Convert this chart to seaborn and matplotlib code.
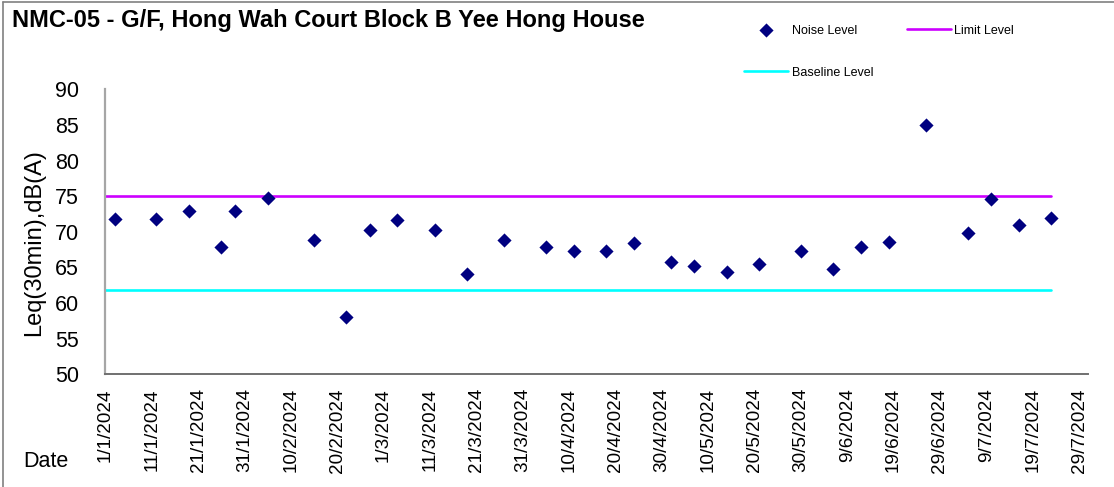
import matplotlib
matplotlib.use("Agg")
import matplotlib.pyplot as plt
from matplotlib.lines import Line2D
import seaborn as sns
import pandas as pd

# ---- data ----
noise_dates = ["2024-01-03", "2024-01-12", "2024-01-19", "2024-01-26", "2024-01-29",
               "2024-02-05", "2024-02-15", "2024-02-22", "2024-02-27", "2024-03-04",
               "2024-03-12", "2024-03-19", "2024-03-27", "2024-04-05", "2024-04-11",
               "2024-04-18", "2024-04-24", "2024-05-02", "2024-05-07", "2024-05-14",
               "2024-05-21", "2024-05-30", "2024-06-06", "2024-06-12", "2024-06-18",
               "2024-06-26", "2024-07-05", "2024-07-10", "2024-07-16", "2024-07-23"]
noise_values = [71.8, 71.8, 72.9, 67.8, 72.9, 74.7, 68.8, 58.1, 70.3, 71.6,
                70.3, 64.1, 68.8, 67.9, 67.3, 67.3, 68.4, 65.8, 65.2, 64.3,
                65.5, 67.3, 64.8, 67.8, 68.6, 85.0, 69.8, 74.6, 71.0, 72.0]
level_dates = ["2024-01-01", "2024-07-23"]
limit_values = [75, 75]
baseline_values = [61.8, 61.8]
title = "NMC-05 - G/F, Hong Wah Court Block B Yee Hong House"
y_ticks = [50, 55, 60, 65, 70, 75, 80, 85, 90]
x_start, x_end, x_last_tick = "2024-01-01", "2024-07-31", "2024-07-29"

noise_dt = pd.to_datetime(noise_dates)
level_dt = pd.to_datetime(level_dates)

sns.set_style("white")
plt.rcParams["font.family"] = ["Liberation Sans", "DejaVu Sans"]
plt.rcParams["text.color"] = "black"
plt.rcParams["xtick.color"] = "black"
plt.rcParams["ytick.color"] = "black"
plt.rcParams["axes.labelcolor"] = "black"

W, H = 1114, 487
fig = plt.figure(figsize=(W / 100, H / 100), dpi=100)
ax = fig.add_axes([105.3 / W, 1 - 374.3 / H, (1088.3 - 105.3) / W, (374.3 - 89.3) / H])

sns.lineplot(x=level_dt, y=limit_values, color="#CC00FF", linewidth=1.9,
             label="Limit Level", ax=ax, zorder=2)
sns.lineplot(x=level_dt, y=baseline_values, color="#00FFFF", linewidth=1.9,
             label="Baseline Level", ax=ax, zorder=2)
sns.scatterplot(x=noise_dt, y=noise_values, marker="D", color="#000080", s=52,
                linewidth=0, label="Noise Level", ax=ax, zorder=3)

ax.set_xlim(pd.Timestamp(x_start), pd.Timestamp(x_end))
ax.set_ylim(50, 90)
ax.set_yticks(y_ticks)
ax.set_yticklabels([str(v) for v in y_ticks], fontsize=15.5)
xt = pd.date_range(x_start, x_last_tick, freq="10D")
ax.set_xticks(xt)
ax.set_xticklabels([f"{d.day}/{d.month}/{d.year}" for d in xt], rotation=90,
                   fontsize=13.6, va="top")
ax.tick_params(axis="x", direction="in", length=5, width=1.2, color="#404040",
               labelcolor="black", pad=10)
ax.tick_params(axis="y", length=0, pad=19, labelcolor="black")
ax.set_xlabel("")
ax.set_ylabel("")
for s in ["top", "right"]:
    ax.spines[s].set_visible(False)
ax.spines["left"].set_color("#A6A6A6")
ax.spines["left"].set_linewidth(1.6)
ax.spines["bottom"].set_color("#707070")
ax.spines["bottom"].set_linewidth(1.4)
ax.grid(False)

h, l = ax.get_legend_handles_labels()
ax.get_legend().remove()
order = [l.index("Noise Level"), l.index("Baseline Level"), l.index("Limit Level")]
fig.legend([h[i] for i in order], [l[i] for i in order], ncol=2, loc="upper left",
           bbox_to_anchor=(744 / W, 1 - 24.5 / H), frameon=False, fontsize=9,
           handlelength=3.5, handletextpad=0.3, columnspacing=2.7,
           labelspacing=2.42, borderpad=0, borderaxespad=0, scatterpoints=1)

fig.text(12 / W, 1 - 8.5 / H, title, fontsize=17, fontweight="bold", va="top",
         ha="left", color="black")
fig.text(34 / W, 1 - 243 / H, "Leq(30min),dB(A)", rotation=90, fontsize=17,
         ha="center", va="center", color="black")
fig.text(23 / W, 1 - 467 / H, "Date", fontsize=15.5, ha="left", va="baseline",
         color="black")

fig.add_artist(Line2D([3 / W, 3 / W], [0, 1 - 1.5 / H], transform=fig.transFigure,
                      color="#808080", lw=1.2))
fig.add_artist(Line2D([3 / W, 1], [1 - 1.5 / H, 1 - 1.5 / H], transform=fig.transFigure,
                      color="#808080", lw=1.2))

fig.savefig("out.png", dpi=100)
